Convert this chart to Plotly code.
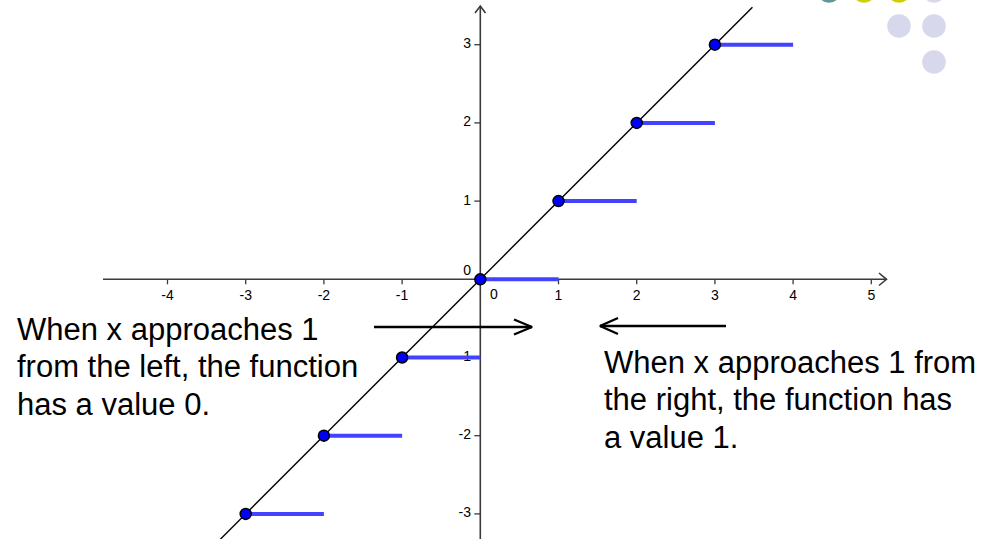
import plotly.graph_objects as go

# ---- data ----
step_x = [-3, -2, -1, 0, 1, 2, 3]          # left ends of the floor steps
step_y = [-3, -2, -1, 0, 1, 2, 3]          # value on each step
step_len = 1
diag_x = [-3.6, 3.48]                      # line y = x
diag_y = [-3.6, 3.48]
x_tick_vals = [-4, -3, -2, -1, 1, 2, 3, 4, 5]
x_tick_text = ["-4", "-3", "-2", "-1", "1", "2", "3", "4", "5"]
y_tick_vals = [-3, -2, -1, 1, 2, 3]
y_tick_text = ["-3", "-2", "-1", "1", "2", "3"]
left_text = ["When x approaches 1", "from the left, the function", "has a value 0."]
right_text = ["When x approaches 1 from", "the right, the function has", "a value 1."]

W, H = 997, 539
OX, OY, S = 480.3, 279.3, 78.2           # pixel origin and pixels per unit


def X(px):
    return (px - OX) / S


def Y(py):
    return (OY - py) / S


fig = go.Figure()

AX = "#3a3a3a"
# axes
fig.add_trace(go.Scatter(x=[X(103), X(886.5)], y=[0, 0], mode="lines",
                         line=dict(color=AX, width=1.6), hoverinfo="skip"))
fig.add_trace(go.Scatter(x=[0, 0], y=[Y(545), Y(6)], mode="lines",
                         line=dict(color=AX, width=1.6), hoverinfo="skip"))
# axis arrow heads
fig.add_trace(go.Scatter(x=[X(879), X(886.5), X(879)], y=[Y(273), 0, Y(285.5)], mode="lines",
                         line=dict(color=AX, width=1.6), hoverinfo="skip"))
fig.add_trace(go.Scatter(x=[X(475), 0, X(485.5)], y=[Y(13), Y(6), Y(13)], mode="lines",
                         line=dict(color=AX, width=1.6), hoverinfo="skip"))
# ticks
tx, ty = [], []
for v in x_tick_vals:
    tx += [v, v, None]
    ty += [0, Y(OY + 5), None]
for v in y_tick_vals:
    tx += [0, X(OX - 6), None]
    ty += [v, v, None]
fig.add_trace(go.Scatter(x=tx, y=ty, mode="lines", line=dict(color=AX, width=1.3),
                         hoverinfo="skip"))

TF = dict(family="Liberation Sans, Arial, sans-serif", size=14, color="#000000")
# tick labels (drawn below the steps)
fig.add_trace(go.Scatter(x=x_tick_vals, y=[Y(296.5)] * len(x_tick_vals), mode="text",
                         text=x_tick_text, textposition="middle center", textfont=TF,
                         hoverinfo="skip"))
fig.add_trace(go.Scatter(x=[X(471)] * len(y_tick_vals), y=y_tick_vals, mode="text",
                         text=y_tick_text, textposition="middle left", textfont=TF,
                         hoverinfo="skip"))
fig.add_trace(go.Scatter(x=[X(494), X(471)], y=[Y(295.5), Y(271)], mode="text",
                         text=["0", "0"], textposition=["middle center", "middle left"],
                         textfont=TF, hoverinfo="skip"))

# diagonal y = x
fig.add_trace(go.Scatter(x=diag_x, y=diag_y, mode="lines",
                         line=dict(color="#000000", width=1.4), hoverinfo="skip"))

# steps
sx, sy = [], []
for a, b in zip(step_x, step_y):
    sx += [a, a + step_len, None]
    sy += [b, b, None]
fig.add_trace(go.Scatter(x=sx, y=sy, mode="lines",
                         line=dict(color="#4343FF", width=4), hoverinfo="skip"))
fig.add_trace(go.Scatter(x=step_x, y=step_y, mode="markers",
                         marker=dict(size=11, color="#0000F5",
                                     line=dict(color="#000000", width=1.5)),
                         hoverinfo="skip"))

# explanatory arrows
AW = 2.4
fig.add_trace(go.Scatter(x=[X(374), X(532)], y=[Y(327), Y(327)], mode="lines",
                         line=dict(color="#000000", width=AW), hoverinfo="skip"))
fig.add_trace(go.Scatter(x=[X(514), X(532), X(514)], y=[Y(319.5), Y(327), Y(334.5)],
                         mode="lines", line=dict(color="#000000", width=AW),
                         hoverinfo="skip"))
fig.add_trace(go.Scatter(x=[X(600), X(726)], y=[Y(326), Y(326)], mode="lines",
                         line=dict(color="#000000", width=AW), hoverinfo="skip"))
fig.add_trace(go.Scatter(x=[X(618), X(600), X(618)], y=[Y(318), Y(326), Y(334)],
                         mode="lines", line=dict(color="#000000", width=AW),
                         hoverinfo="skip"))

# explanatory texts
BF = dict(family="Liberation Sans, Arial, sans-serif", size=31, color="#000000")
ann = []
for i, t in enumerate(left_text):
    ann.append(dict(text=t, x=15 / W, y=1 - (329.3 + 37.5 * i) / H, xref="paper",
                    yref="paper", xanchor="left", yanchor="middle", showarrow=False,
                    font=BF))
for i, t in enumerate(right_text):
    ann.append(dict(text=t, x=602 / W, y=1 - (362.3 + 37.5 * i) / H, xref="paper",
                    yref="paper", xanchor="left", yanchor="middle", showarrow=False,
                    font=BF))

# decorative dots, top right
deco = [(829, -9, "#5E9898"), (864, -9, "#D2CF00"), (899, -9, "#D2CF00"),
        (934, -9, "#D8D8EC"), (899, 26, "#D8D8EC"), (934, 26, "#D8D8EC"),
        (934, 62, "#D8D8EC")]
shapes = []
r = 11.8
for cx, cy, c in deco:
    shapes.append(dict(type="circle", xref="paper", yref="paper",
                       x0=(cx - r) / W, x1=(cx + r) / W,
                       y0=1 - (cy + r) / H, y1=1 - (cy - r) / H,
                       fillcolor=c, line=dict(width=0), layer="above"))

fig.update_layout(
    width=W, height=H, margin=dict(l=0, r=0, t=0, b=0),
    paper_bgcolor="white", plot_bgcolor="white", showlegend=False,
    xaxis=dict(range=[X(0), X(W)], visible=False, fixedrange=True),
    yaxis=dict(range=[Y(H), Y(0)], visible=False, fixedrange=True),
    annotations=ann, shapes=shapes,
)

fig.write_html("out.html", config={"displayModeBar": False},
               post_script="document.body.style.margin='0';document.body.style.overflow='hidden';")
